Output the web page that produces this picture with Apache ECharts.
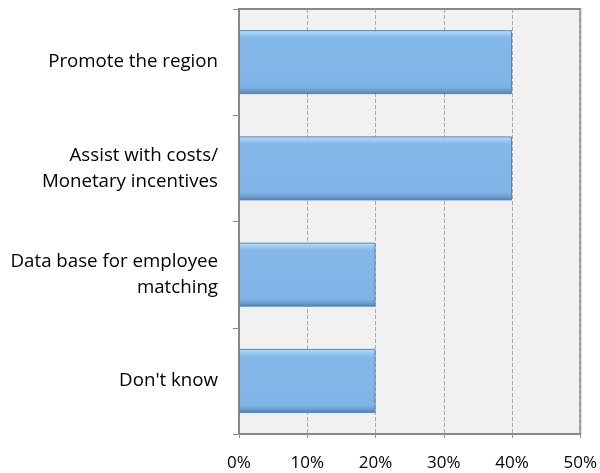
<!DOCTYPE html>
<html><head><meta charset="utf-8">
<script src="https://cdn.jsdelivr.net/npm/echarts@6/dist/echarts.min.js"></script>
<style>html,body{margin:0;padding:0;background:#fff}#c{width:600px;height:473px}</style>
</head><body><div id="c"></div>
<script>
const categories = ["Promote the region", "Assist with costs/\nMonetary incentives", "Data base for employee\nmatching", "Don't know"];
const values = [40, 40, 20, 20];
const xTicks = [0, 10, 20, 30, 40, 50];

const chart = echarts.init(document.getElementById('c'), null, {renderer: 'canvas'});
const font = "'Open Sans', sans-serif";
chart.setOption({
  animation: false,
  grid: {left: 239, right: 19, top: 9, bottom: 39, containLabel: false, show: true,
         backgroundColor: '#f1f1f1', borderColor: '#888', borderWidth: 2},
  xAxis: {type: 'value', min: xTicks[0], max: xTicks[xTicks.length-1], interval: 10,
    axisLine: {show: true, lineStyle: {color: '#888', width: 2}},
    axisTick: {show: true, length: 6, lineStyle: {color: '#999', type: 'dashed'}},
    axisLabel: {formatter: v => v + '%', color: '#000', fontSize: 17, fontFamily: font, margin: 21},
    splitLine: {show: true, lineStyle: {color: '#aaa', type: 'dashed', width: 1}}},
  yAxis: {type: 'category', data: categories, inverse: true,
    axisLine: {show: true, lineStyle: {color: '#888', width: 2}},
    axisTick: {show: true, length: 6, lineStyle: {color: '#888'}},
    axisLabel: {color: '#000', fontSize: 18.7, fontFamily: font, margin: 21, align: 'right', lineHeight: 26},
    splitLine: {show: false}},
  series: [{type: 'bar', data: values, barWidth: 64,
    itemStyle: {
      color: new echarts.graphic.LinearGradient(0, 0, 0, 1, [
        {offset: 0, color: '#b4e0ff'},
        {offset: 0.06, color: '#9cccf5'},
        {offset: 0.12, color: '#84b8e9'},
        {offset: 0.88, color: '#80b4e6'},
        {offset: 0.94, color: '#6d9fd2'},
        {offset: 1, color: '#4d7eb0'}]),
      borderColor: '#5a86b5', borderWidth: 1}}]
});
</script></body></html>
